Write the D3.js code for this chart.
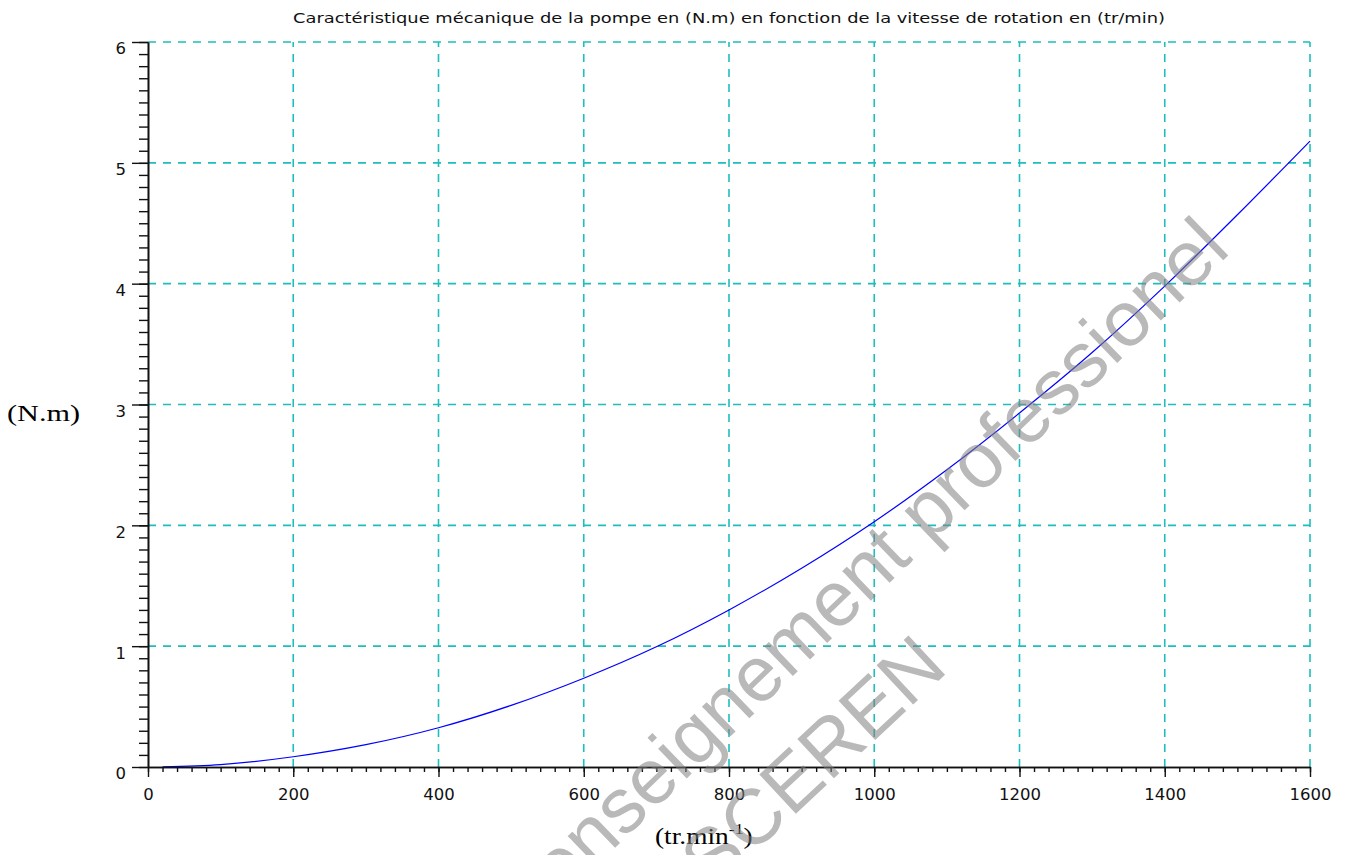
<!DOCTYPE html>
<html>
<head>
<meta charset="utf-8">
<script src="https://cdn.jsdelivr.net/npm/d3@7"></script>
<style>
  html, body { margin: 0; padding: 0; background: #fff; }
  svg { display: block; }
</style>
</head>
<body>
<div id="chart"></div>
<script>
// ---- data ----
const speed  = [20, 100, 200, 300, 400, 500, 600, 700, 800, 900, 1000, 1100, 1200, 1300, 1400, 1500, 1600];
const torque = [0.001, 0.02, 0.085, 0.185, 0.325, 0.51, 0.735, 0.995, 1.30, 1.645, 2.03, 2.46, 2.93, 3.43, 3.98, 4.57, 5.18];
const xTicks = [0, 200, 400, 600, 800, 1000, 1200, 1400, 1600];
const yTicks = [0, 1, 2, 3, 4, 5, 6];
const titleText = "Caractéristique mécanique de la pompe en (N.m) en fonction de la vitesse de rotation en (tr/min)";

const W = 1347, H = 855;
const svg = d3.select("#chart").append("svg").attr("width", W).attr("height", H);

const x = d3.scaleLinear().domain([0, 1600]).range([148, 1310]);
const y = d3.scaleLinear().domain([0, 6]).range([767, 42]);

const gridColor = "#1fbdbd";

// grid
const grid = svg.append("g");
grid.selectAll("line.v").data(xTicks.filter(d => d > 0)).join("line")
  .attr("x1", d => x(d)).attr("x2", d => x(d))
  .attr("y1", y(0)).attr("y2", y(6))
  .attr("stroke", gridColor).attr("stroke-width", 1.6).attr("stroke-dasharray", "8,7");
grid.selectAll("line.h").data(yTicks.filter(d => d > 0)).join("line")
  .attr("x1", x(0)).attr("x2", x(1600))
  .attr("y1", d => y(d)).attr("y2", d => y(d))
  .attr("stroke", gridColor).attr("stroke-width", 1.6).attr("stroke-dasharray", "8,7");

// curve
const line = d3.line().x((d, i) => x(speed[i])).y(d => y(d)).curve(d3.curveMonotoneX);
svg.append("path").datum(torque)
  .attr("d", line).attr("fill", "none").attr("stroke", "#0000ff").attr("stroke-width", 1.2);

// minor ticks
const xMinor = d3.range(0, 1601, 20);
const yMinor = d3.range(0, 61, 1).map(d => d / 10);

const font = "'DejaVu Sans', sans-serif";

const gxMinor = svg.append("g").attr("transform", `translate(0,${y(0)})`)
  .call(d3.axisBottom(x).tickValues(xMinor).tickSize(5).tickSizeOuter(0).tickFormat(""));
const gyMinor = svg.append("g").attr("transform", `translate(${x(0)},0)`)
  .call(d3.axisLeft(y).tickValues(yMinor).tickSize(9).tickSizeOuter(0).tickFormat(""));

const gx = svg.append("g").attr("transform", `translate(0,${y(0)})`)
  .call(d3.axisBottom(x).tickValues(xTicks).tickSize(10).tickSizeOuter(0).tickPadding(11).tickFormat(d3.format("d")));
const gy = svg.append("g").attr("transform", `translate(${x(0)},0)`)
  .call(d3.axisLeft(y).tickValues(yTicks).tickSize(16).tickSizeOuter(0).tickPadding(6).tickFormat(d3.format("d")));

[gxMinor, gyMinor, gx, gy].forEach(g => {
  g.selectAll("path.domain").attr("stroke", "#111").attr("stroke-width", 1.6);
  g.selectAll(".tick line").attr("stroke", "#111").attr("stroke-width", 1.4);
  g.selectAll("text").attr("font-family", font).attr("font-size", 16.5).attr("fill", "#111");
});
gy.selectAll("text").attr("dy", "0.72em");

// title
svg.append("text")
  .attr("x", 729).attr("y", 23)
  .attr("text-anchor", "middle")
  .attr("font-family", font).attr("font-size", 14).attr("fill", "#111")
  .attr("textLength", 872).attr("lengthAdjust", "spacingAndGlyphs")
  .text(titleText);

// axis labels
svg.append("text")
  .attr("x", 7).attr("y", 421)
  .attr("font-family", "'Liberation Serif', 'Times New Roman', serif").attr("font-size", 23).attr("fill", "#000")
  .attr("textLength", 73).attr("lengthAdjust", "spacingAndGlyphs")
  .text("(N.m)");

const xl = svg.append("text")
  .attr("transform", "translate(655,844) scale(1.19,1)")
  .attr("font-family", "'Liberation Serif', 'Times New Roman', serif").attr("font-size", 23).attr("fill", "#000");
xl.append("tspan").text("(tr.min");
xl.append("tspan").attr("font-size", 15).attr("dy", -10).text("-1");
xl.append("tspan").attr("dy", 10).text(")");

// watermark
const wm = svg.append("g").attr("fill", "#7f7f7f").attr("fill-opacity", 0.55)
  .attr("font-family", "'Liberation Sans', Arial, sans-serif").attr("font-size", 78);
wm.append("text")
  .attr("transform", "translate(1232,252) rotate(-44)")
  .attr("text-anchor", "end")
  .text("enseignement professionel");
wm.append("text")
  .attr("transform", "translate(712,892) rotate(-43)")
  .attr("text-anchor", "start")
  .text("SCEREN");
</script>
</body>
</html>
